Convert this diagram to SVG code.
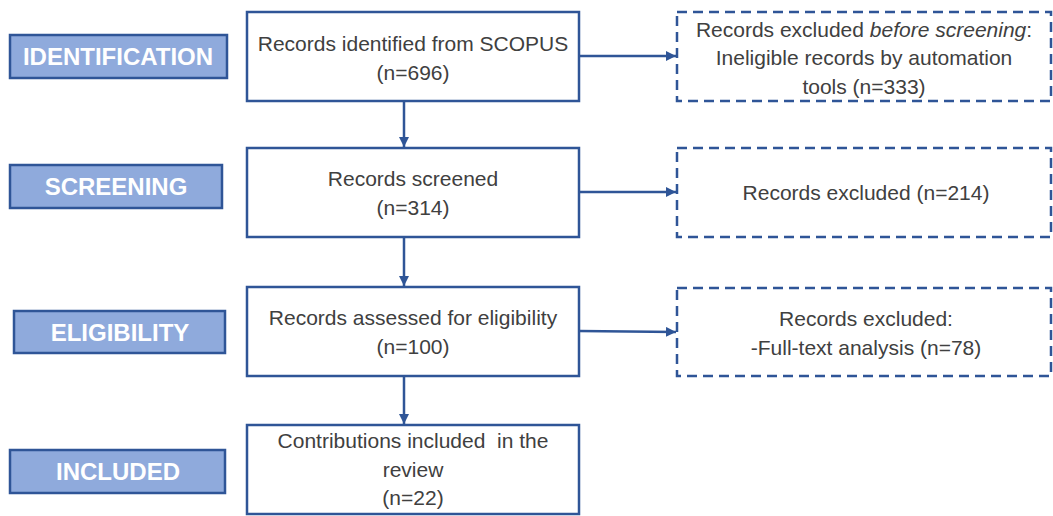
<svg xmlns="http://www.w3.org/2000/svg" width="1053" height="516" viewBox="0 0 1053 516">
<style>
.lab{fill:#8FAADC;stroke:#2F5597;stroke-width:2.5}
.labt{font-family:"Liberation Sans",Arial,sans-serif;font-weight:bold;font-size:24px;fill:#fff;text-anchor:middle}
.box{fill:#fff;stroke:#2F5597;stroke-width:2.5}
.dbox{fill:#fff;stroke:#2F5597;stroke-width:2.5;stroke-dasharray:10 6}
.t{font-family:"Liberation Sans",Arial,sans-serif;font-size:21px;fill:#404040;text-anchor:middle}
.c{stroke:#2F5597;stroke-width:2.5;fill:none;marker-end:url(#ah)}
</style>
<defs>
<marker id="ah" viewBox="0 0 10 10" refX="10" refY="5" markerWidth="4" markerHeight="4" orient="auto" markerUnits="strokeWidth">
<path d="M0,0 L10,5 L0,10 z" fill="#2F5597"/>
</marker>
</defs>
<rect width="1053" height="516" fill="#fff"/>
<g id="lab-identification"><rect class="lab" x="10" y="35" width="217" height="43"/><text class="labt" x="118" y="65">IDENTIFICATION</text></g>
<g id="lab-screening"><rect class="lab" x="10" y="165" width="212" height="43"/><text class="labt" x="116" y="195">SCREENING</text></g>
<g id="lab-eligibility"><rect class="lab" x="14" y="311" width="211" height="42"/><text class="labt" x="120" y="341">ELIGIBILITY</text></g>
<g id="lab-included"><rect class="lab" x="10" y="450" width="215" height="43"/><text class="labt" x="118" y="480">INCLUDED</text></g>

<g id="n1"><rect class="box" x="247" y="12" width="332" height="89"/><text class="t" x="413" y="51">Records identified from SCOPUS</text><text class="t" x="413" y="80">(n=696)</text></g>
<g id="n2"><rect class="box" x="247" y="148" width="332" height="89"/><text class="t" x="413" y="186">Records screened</text><text class="t" x="413" y="215">(n=314)</text></g>
<g id="n3"><rect class="box" x="247" y="287" width="332" height="89"/><text class="t" x="413" y="325">Records assessed for eligibility</text><text class="t" x="413" y="354">(n=100)</text></g>
<g id="n4"><rect class="box" x="247" y="425" width="332" height="89"/><text class="t" x="413" y="448" xml:space="preserve">Contributions included  in the</text><text class="t" x="413" y="477">review</text><text class="t" x="413" y="505">(n=22)</text></g>

<g id="x1"><rect class="dbox" x="677" y="12" width="374" height="89"/><text class="t" x="864" y="37">Records excluded <tspan font-style="italic">before screening</tspan>:</text><text class="t" x="864" y="65">Ineligible records by automation</text><text class="t" x="864" y="94">tools (n=333)</text></g>
<g id="x2"><rect class="dbox" x="677" y="148" width="374" height="89"/><text class="t" x="866" y="200">Records excluded (n=214)</text></g>
<g id="x3"><rect class="dbox" x="677" y="288" width="374" height="88"/><text class="t" x="866" y="326">Records excluded:</text><text class="t" x="866" y="355">-Full-text analysis (n=78)</text></g>

<g id="connectors">
<line class="c" x1="404" y1="101" x2="404" y2="147"/>
<line class="c" x1="404" y1="237" x2="404" y2="286"/>
<line class="c" x1="404" y1="376" x2="404" y2="424"/>
<line class="c" x1="579" y1="56" x2="676" y2="56"/>
<line class="c" x1="579" y1="192" x2="676" y2="192"/>
<line class="c" x1="579" y1="331" x2="676" y2="332"/>
</g>
</svg>
